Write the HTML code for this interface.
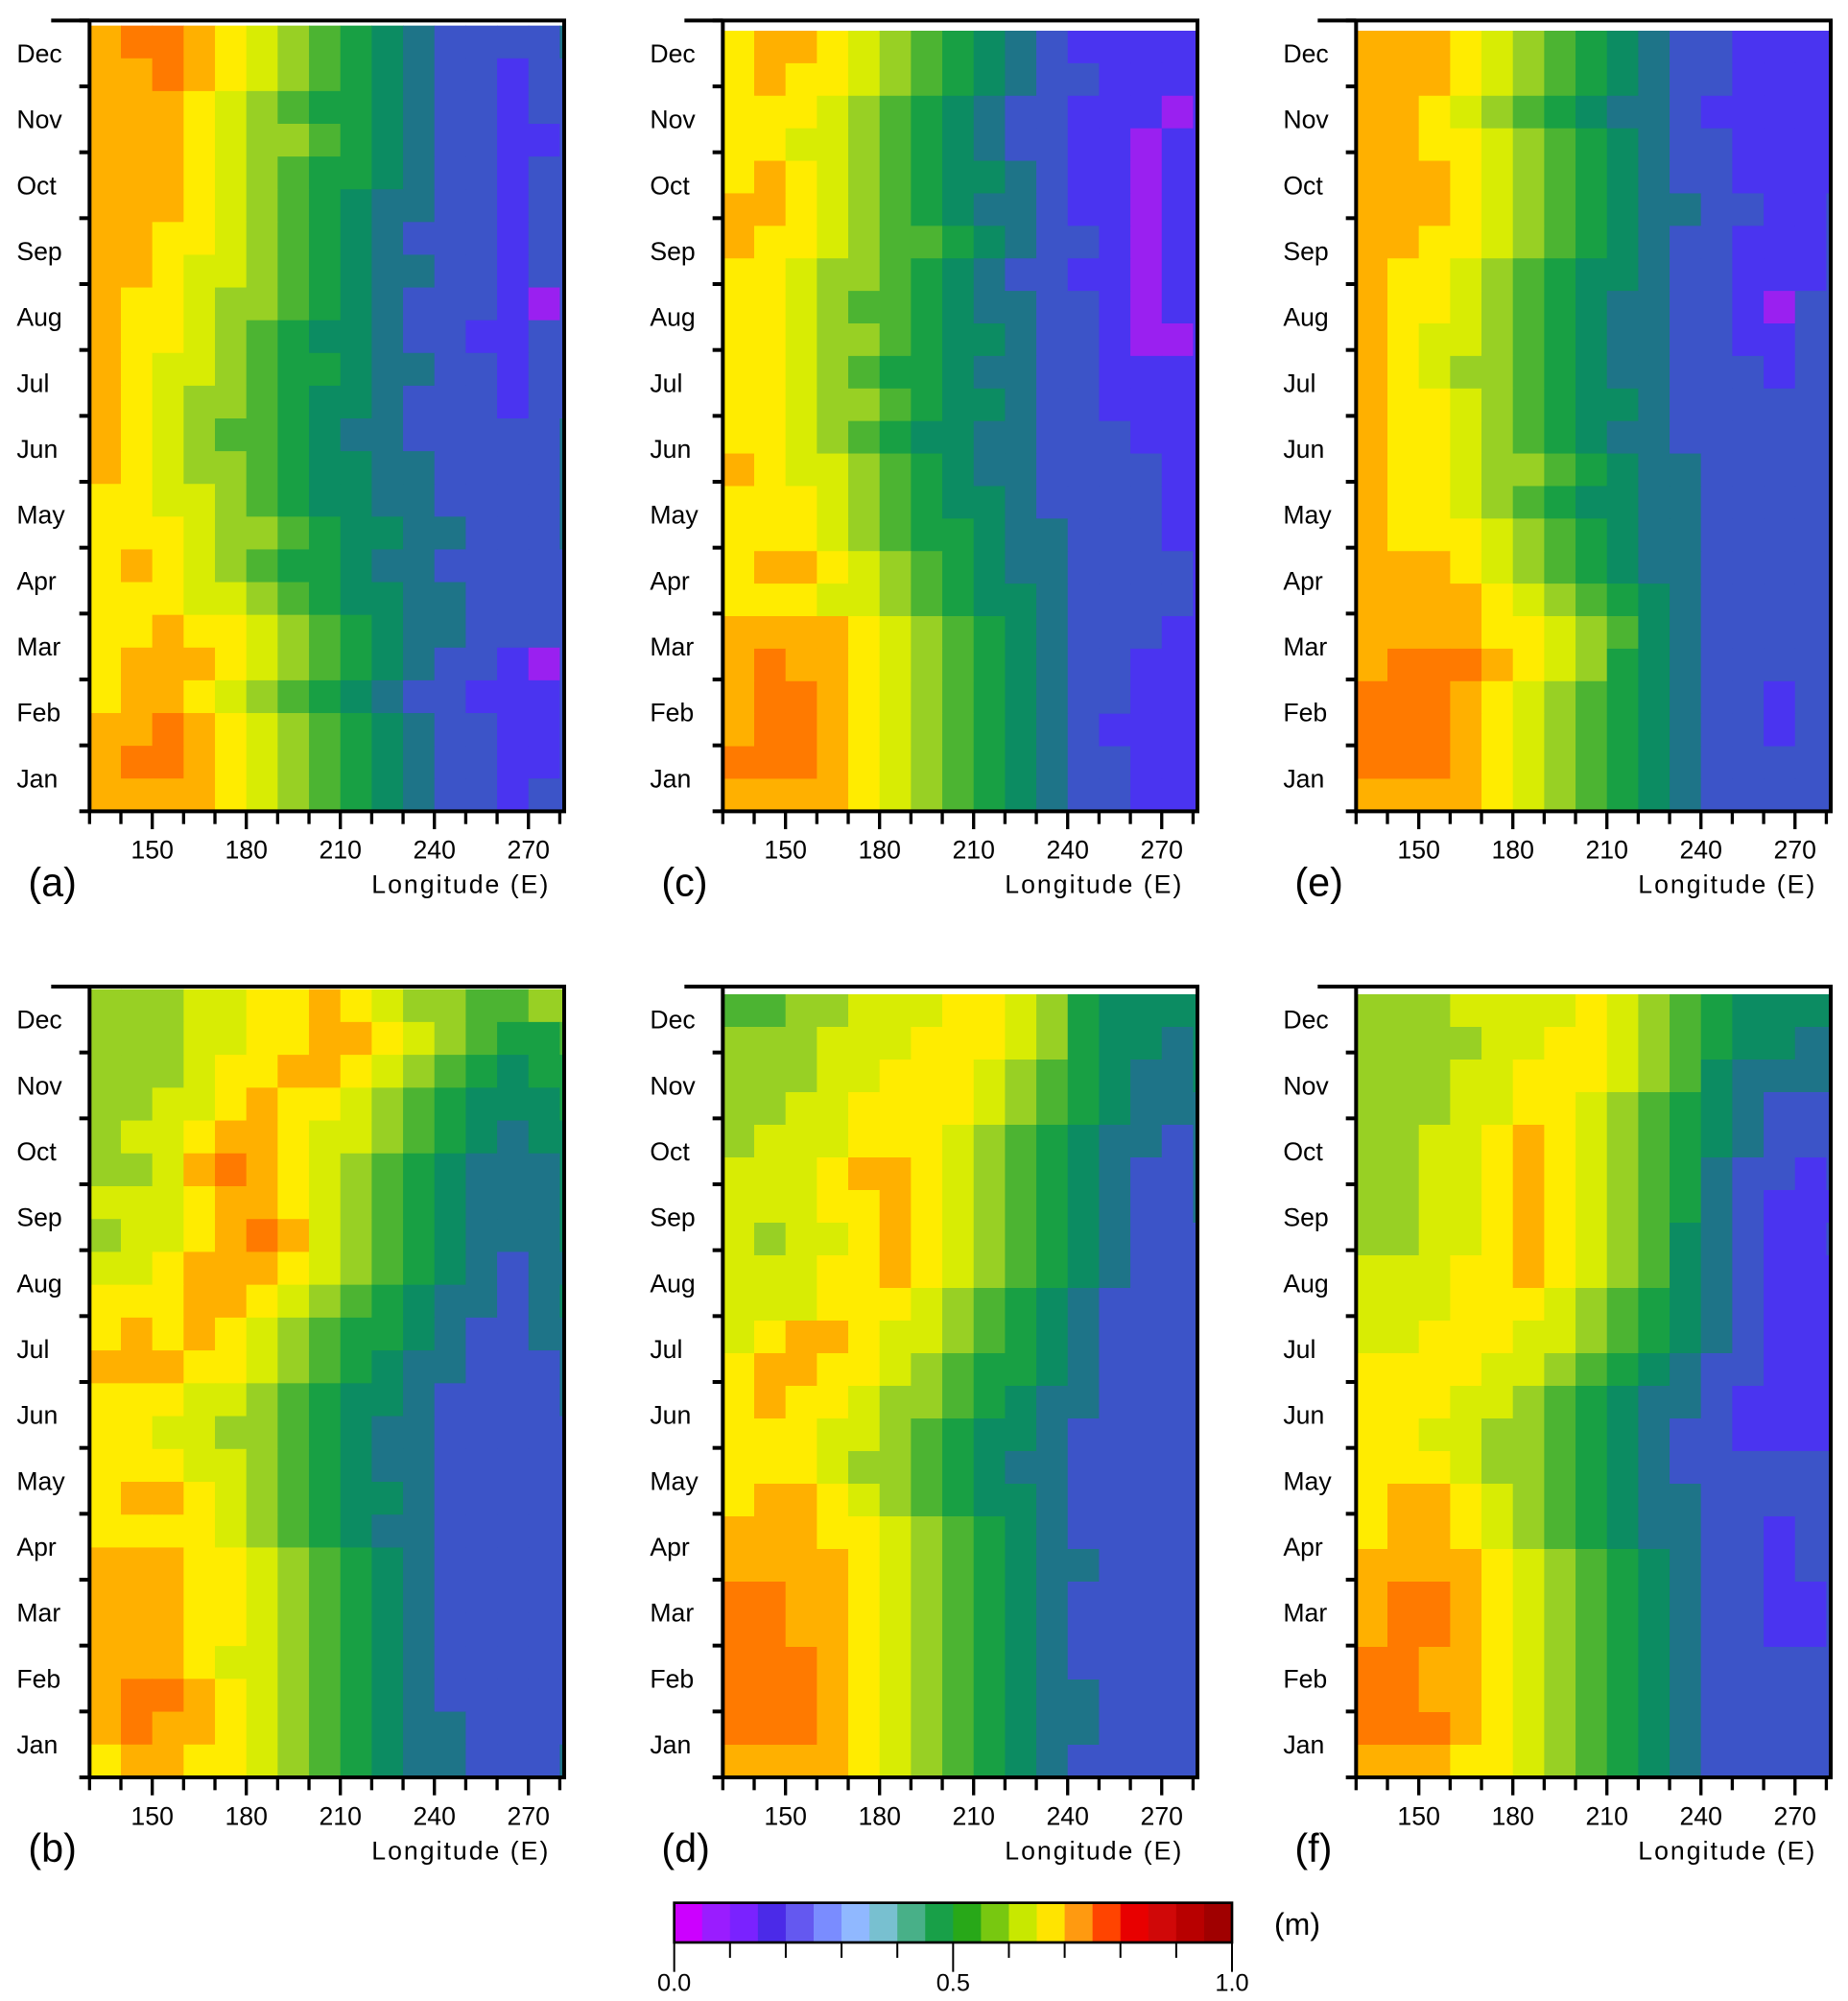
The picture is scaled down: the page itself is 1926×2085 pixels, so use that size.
<!DOCTYPE html>
<html><head><meta charset="utf-8"><style>
html,body{margin:0;padding:0;background:#fff;}
svg{display:block;font-family:"Liberation Sans",Arial,sans-serif;}
</style></head><body>
<svg id="fig" width="1926" height="2085" viewBox="0 0 1444.5 1563.75" xmlns="http://www.w3.org/2000/svg"></svg>
<script>
// Longitudes of cell left edges (10° bins) and month labels
const lonEdges = [130,140,150,160,170,180,190,200,210,220,230,240,250,260,270,280];
const lonTicks = [150,180,210,240,270];
const months = ["Dec","Nov","Oct","Sep","Aug","Jul","Jun","May","Apr","Mar","Feb","Jan"];
const cbTicks = ["0.0","0.5","1.0"];
// Sea level (cm), 24 half-month rows top (late Dec) -> bottom (early Jan), 16 longitude bins
const panelA = [
[72,77,77,72,67,62,57,52,47,42,37,32,32,32,32,37],[72,72,77,72,67,62,57,52,47,42,37,32,32,27,32,32],
[72,72,72,67,62,57,52,47,47,42,37,32,32,27,32,32],[72,72,72,67,62,57,57,52,47,42,37,32,32,27,27,32],
[72,72,72,67,62,57,52,47,47,42,37,32,32,27,32,32],[72,72,72,67,62,57,52,47,42,37,37,32,32,27,32,32],
[72,72,67,67,62,57,52,47,42,37,32,32,32,27,32,32],[72,72,67,62,62,57,52,47,42,37,37,32,32,27,32,32],
[72,67,67,62,57,57,52,47,42,37,32,32,32,27,22,32],[72,67,67,62,57,52,47,42,42,37,32,32,27,27,32,32],
[72,67,62,62,57,52,47,47,42,37,37,32,32,27,32,32],[72,67,62,57,57,52,47,42,42,37,32,32,32,27,32,32],
[72,67,62,57,52,52,47,42,37,37,32,32,32,32,32,37],[72,67,62,57,57,52,47,42,42,37,37,32,32,32,32,37],
[67,67,62,62,57,52,47,42,42,37,37,32,32,32,32,37],[67,67,67,62,57,57,52,47,42,42,37,37,32,32,32,37],
[67,72,67,62,57,52,47,47,42,37,37,32,32,32,32,32],[67,67,67,62,62,57,52,47,42,42,37,37,32,32,32,32],
[67,67,72,67,67,62,57,52,47,42,37,37,32,32,32,32],[67,72,72,72,67,62,57,52,47,42,37,32,32,27,22,32],
[67,72,72,67,62,57,52,47,42,37,32,32,27,27,27,32],[72,72,77,72,67,62,57,52,47,42,37,32,32,27,27,32],
[72,77,77,72,67,62,57,52,47,42,37,32,32,27,27,32],[72,72,72,72,67,62,57,52,47,42,37,32,32,27,32,32]];
const panelC = [
[67,72,72,67,62,57,52,47,42,37,32,27,27,27,27,27],[67,72,67,67,62,57,52,47,42,37,32,32,27,27,27,27],
[67,67,67,62,57,52,47,42,37,32,32,27,27,27,22,27],[67,67,62,62,57,52,47,42,37,32,32,27,27,22,27,27],
[67,72,67,62,57,52,47,42,42,37,32,27,27,22,27,27],[72,72,67,62,57,52,47,42,37,37,32,27,27,22,27,27],
[72,67,67,62,57,52,52,47,42,37,32,32,27,22,27,27],[67,67,62,57,57,52,47,42,37,32,32,27,27,22,27,27],
[67,67,62,57,52,52,47,42,37,37,32,32,27,22,27,27],[67,67,62,57,57,52,47,42,42,37,32,32,27,22,22,27],
[67,67,62,57,52,47,47,42,37,37,32,32,27,27,27,27],[67,67,62,57,57,52,47,42,42,37,32,32,27,27,27,27],
[67,67,62,57,52,47,42,42,37,37,32,32,32,27,27,27],[72,67,62,62,57,52,47,42,37,37,32,32,32,32,27,27],
[67,67,67,62,57,52,47,42,42,37,32,32,32,32,27,27],[67,67,67,62,57,52,47,47,42,37,37,32,32,32,27,27],
[67,72,72,67,62,57,52,47,42,37,37,32,32,32,32,27],[67,67,67,62,62,57,52,47,42,42,37,32,32,32,32,27],
[72,72,72,72,67,62,57,52,47,42,37,32,32,32,27,27],[72,77,72,72,67,62,57,52,47,42,37,32,32,27,27,27],
[72,77,77,72,67,62,57,52,47,42,37,32,32,27,27,27],[72,77,77,72,67,62,57,52,47,42,37,32,27,27,27,27],
[77,77,77,72,67,62,57,52,47,42,37,32,32,27,27,27],[72,72,72,72,67,62,57,52,47,42,37,32,32,27,27,27]];
const panelE = [
[72,72,72,67,62,57,52,47,42,37,32,32,27,27,27,27],[72,72,72,67,62,57,52,47,42,37,32,32,27,27,27,27],
[72,72,67,62,57,52,47,42,37,37,32,27,27,27,27,27],[72,72,67,67,62,57,52,47,42,37,32,32,27,27,27,27],
[72,72,72,67,62,57,52,47,42,37,32,32,27,27,27,27],[72,72,72,67,62,57,52,47,42,37,37,32,32,27,27,32],
[72,72,67,67,62,57,52,47,42,37,32,32,27,27,27,32],[72,67,67,62,57,52,47,42,42,37,32,32,27,27,27,32],
[72,67,67,62,57,52,47,42,37,37,32,32,27,22,32,32],[72,67,62,62,57,52,47,42,37,37,32,32,27,27,32,32],
[72,67,62,57,57,52,47,42,37,37,32,32,32,27,32,32],[72,67,67,62,57,52,47,42,42,37,32,32,32,32,32,32],
[72,67,67,62,57,52,47,42,37,37,32,32,32,32,32,32],[72,67,67,62,57,57,52,47,42,37,37,32,32,32,32,32],
[72,67,67,62,57,52,47,42,42,37,37,32,32,32,32,32],[72,67,67,67,62,57,52,47,42,37,37,32,32,32,32,32],
[72,72,72,67,62,57,52,47,42,37,37,32,32,32,32,32],[72,72,72,72,67,62,57,52,47,42,37,32,32,32,32,32],
[72,72,72,72,67,67,62,57,52,42,37,32,32,32,32,32],[72,77,77,77,72,67,62,57,47,42,37,32,32,32,32,32],
[77,77,77,72,67,62,57,52,47,42,37,32,32,27,32,32],[77,77,77,72,67,62,57,52,47,42,37,32,32,27,32,32],
[77,77,77,72,67,62,57,52,47,42,37,32,32,32,32,32],[72,72,72,72,67,62,57,52,47,42,37,32,32,32,32,32]];
const panelB = [
[57,57,57,62,62,67,67,72,67,62,57,57,52,52,57,57],[57,57,57,62,62,67,67,72,72,67,62,57,52,47,47,52],
[57,57,57,62,67,67,72,72,67,62,57,52,47,42,47,47],[57,57,62,62,67,72,67,67,62,57,52,47,42,42,42,47],
[57,62,62,67,72,72,67,62,62,57,52,47,42,37,42,42],[57,57,62,72,77,72,67,62,57,52,47,42,37,37,37,42],
[62,62,62,67,72,72,67,62,57,52,47,42,37,37,37,42],[57,62,62,67,72,77,72,62,57,52,47,42,37,37,37,42],
[62,62,67,72,72,72,67,62,57,52,47,42,37,32,37,37],[67,67,67,72,72,67,62,57,52,47,42,37,37,32,37,42],
[67,72,67,72,67,62,57,52,47,47,42,37,32,32,37,37],[72,72,72,67,67,62,57,52,47,42,37,37,32,32,32,37],
[67,67,67,62,62,57,52,47,42,42,37,32,32,32,32,37],[67,67,62,62,57,57,52,47,42,37,37,32,32,32,32,32],
[67,67,67,62,62,57,52,47,42,37,37,32,32,32,32,32],[67,72,72,67,62,57,52,47,42,42,37,32,32,32,32,32],
[67,67,67,67,62,57,52,47,42,37,37,32,32,32,32,32],[72,72,72,67,67,62,57,52,47,42,37,32,32,32,32,32],
[72,72,72,67,67,62,57,52,47,42,37,32,32,32,32,32],[72,72,72,67,67,62,57,52,47,42,37,32,32,32,32,32],
[72,72,72,67,62,62,57,52,47,42,37,32,32,32,32,32],[72,77,77,72,67,62,57,52,47,42,37,32,32,32,32,32],
[72,77,72,72,67,62,57,52,47,42,37,37,32,32,32,32],[67,72,72,67,67,62,57,52,47,42,37,37,32,32,32,37]];
const panelD = [
[52,52,57,57,62,62,62,67,67,62,57,47,42,42,42,42],[57,57,57,62,62,62,67,67,67,62,57,47,42,42,37,42],
[57,57,57,62,62,67,67,67,62,57,52,47,42,37,37,42],[57,57,62,62,67,67,67,67,62,57,52,47,42,37,37,37],
[57,62,62,62,67,67,67,62,57,52,47,42,37,37,32,37],[62,62,62,67,72,72,67,62,57,52,47,42,37,32,32,37],
[62,62,62,67,67,72,67,62,57,52,47,42,37,32,32,37],[62,57,62,62,67,72,67,62,57,52,47,42,37,32,32,32],
[62,62,62,67,67,72,67,62,57,52,47,42,37,32,32,32],[62,62,62,67,67,67,62,57,52,47,42,37,32,32,32,32],
[62,67,72,72,67,62,62,57,52,47,42,37,32,32,32,32],[67,72,72,67,67,62,57,52,47,47,42,37,32,32,32,32],
[67,72,67,67,62,57,57,52,47,42,37,37,32,32,32,32],[67,67,67,62,62,57,52,47,42,42,37,32,32,32,32,32],
[67,67,67,62,57,57,52,47,42,37,37,32,32,32,32,32],[67,72,72,67,62,57,52,47,42,42,37,32,32,32,32,32],
[72,72,72,67,67,62,57,52,47,42,37,32,32,32,32,32],[72,72,72,72,67,62,57,52,47,42,37,37,32,32,32,32],
[77,77,72,72,67,62,57,52,47,42,37,32,32,32,32,32],[77,77,72,72,67,62,57,52,47,42,37,32,32,32,32,32],
[77,77,77,72,67,62,57,52,47,42,37,32,32,32,32,32],[77,77,77,72,67,62,57,52,47,42,37,37,32,32,32,32],
[77,77,77,72,67,62,57,52,47,42,37,37,32,32,32,32],[72,72,72,72,67,62,57,52,47,42,37,32,32,32,32,32]];
const panelF = [
[57,57,57,62,62,62,62,67,62,57,52,47,42,42,42,42],[57,57,57,57,62,62,67,67,62,57,52,47,42,42,37,37],
[57,57,57,62,62,67,67,67,62,57,52,42,37,37,37,37],[57,57,57,62,62,67,67,62,57,52,47,42,37,32,32,32],
[57,57,62,62,67,72,67,62,57,52,47,42,37,32,32,32],[57,57,62,62,67,72,67,62,57,52,47,37,32,32,27,32],
[57,57,62,62,67,72,67,62,57,52,47,37,32,27,27,27],[57,57,62,62,67,72,67,62,57,52,42,37,32,27,27,32],
[62,62,62,67,67,72,67,62,57,52,42,37,32,27,27,27],[62,62,62,67,67,67,62,57,52,47,42,37,32,27,27,27],
[62,62,67,67,67,62,62,57,52,47,42,37,32,27,27,27],[67,67,67,67,62,62,57,52,47,42,37,32,32,27,27,27],
[67,67,67,62,62,57,52,47,42,37,37,32,27,27,27,27],[67,67,62,62,57,57,52,47,42,37,32,32,27,27,27,27],
[67,67,67,62,57,57,52,47,42,37,32,32,32,32,32,32],[67,72,72,67,62,57,52,47,42,37,37,32,32,32,32,32],
[67,72,72,67,62,57,52,47,42,37,37,32,32,27,32,32],[72,72,72,72,67,62,57,52,47,42,37,32,32,27,32,32],
[72,77,77,72,67,62,57,52,47,42,37,32,32,27,27,32],[72,77,77,72,67,62,57,52,47,42,37,32,32,27,27,32],
[77,77,72,72,67,62,57,52,47,42,37,32,32,32,32,32],[77,77,72,72,67,62,57,52,47,42,37,32,32,32,32,32],
[77,77,77,72,67,62,57,52,47,42,37,32,32,32,32,32],[72,72,72,67,67,62,57,52,47,42,37,32,32,32,32,32]];
const panelLabels = ["(a)","(c)","(e)","(b)","(d)","(f)"];

const NS="http://www.w3.org/2000/svg";
const svg=document.getElementById('fig');
function mk(tag,attrs,parent){const e=document.createElementNS(NS,tag);for(const k in attrs)e.setAttribute(k,attrs[k]);(parent||svg).appendChild(e);return e;}
const plotColors={20:"#9a20f0",25:"#4a34f0",30:"#3c54c8",35:"#1e7488",40:"#0c8c62",45:"#18a044",50:"#4cb432",55:"#98d024",60:"#d8ec04",65:"#ffec00",70:"#ffb000",75:"#ff7a00",80:"#ff4400"};
function colorOf(v){let k=Math.floor(v/5)*5;if(k<20)k=20;if(k>80)k=80;return plotColors[k];}
const W=371,H=618,LON0=130,LON1=281.4;
const layout=[{x:70,y:16,gap:4,data:panelA},{x:565,y:16,gap:8,data:panelC},{x:1060,y:16,gap:8,data:panelE},
{x:70,y:771,gap:2,data:panelB},{x:565,y:771,gap:6,data:panelD},{x:1060,y:771,gap:6,data:panelF}];

layout.forEach((p,pi)=>{
  const g=mk('g',{});
  
  
  const xs=lon=>p.x+(lon-LON0)/(LON1-LON0)*W;
  const top=p.y+p.gap, rows=p.data.length, rh=(p.y+H-top)/rows;
  p.data.forEach((row,ri)=>{
    row.forEach((v,ci)=>{
      const x0=xs(lonEdges[ci]), x1=Math.min(xs(lonEdges[ci]+10),p.x+W);
      const r=mk('rect',{x:x0,y:top+ri*rh,width:x1-x0+0.4,height:rh+0.4,fill:colorOf(v)},g);
      
      
    });
  });
  // frame
  const fr=mk('path',{d:`M${p.x-30},${p.y} H${p.x+W} V${p.y+H} H${p.x} V${p.y}`,fill:'none',stroke:'#000','stroke-width':3},g);
  
  
  // month ticks
  for(let m=0;m<=12;m++){
    const y=p.y+m*H/12;
    const t=mk('line',{x1:p.x-8,x2:p.x,y1:y,y2:y,stroke:'#000','stroke-width':3},g);
    
    
  }
  months.forEach((mn,i)=>{
    const t=mk('text',{x:p.x-57,y:p.y+(i+0.5)*H/12+7,'font-size':20,fill:'#000'},g);
    t.textContent=mn;
    
    
  });
  for(let lon=130;lon<=280;lon+=10){
    const x=xs(lon);
    const t=mk('line',{x1:x,x2:x,y1:p.y+H,y2:p.y+H+(lon%30===0?14:10),stroke:'#000','stroke-width':2.5},g);
    
    
  }
  lonTicks.forEach(lon=>{
    const t=mk('text',{x:xs(lon),y:p.y+H+37,'font-size':20,'text-anchor':'middle',fill:'#000'},g);
    t.textContent=lon;
    
    
  });
  const xl=mk('text',{x:p.x+360,y:p.y+H+64,'font-size':20,'text-anchor':'end','letter-spacing':1.5,fill:'#000'},g);
  xl.textContent='Longitude (E)';
  
  
  const pl=mk('text',{x:p.x-48,y:p.y+H+66,'font-size':31,fill:'#000'},g);
  pl.textContent=panelLabels[pi];
  
  
});

// colorbar
const cbColors=["#cc00ff","#9a1cff","#7a22ff","#4b2ae8","#6458f0","#7a8cff","#90b8ff","#78c0d0","#48b088","#18a048","#28a818","#78c810","#c8e800","#ffe400","#ff9a10","#ff4400","#e80000","#d00808","#b80000","#a00000"];
const cb=mk('g',{});


const cbX=527,cbW=436,cbY=1487,cbH=31;
cbColors.forEach((c,i)=>{
  const r=mk('rect',{x:cbX+i*cbW/20,y:cbY,width:cbW/20+0.3,height:cbH,fill:c},cb);
  
  
});
mk('rect',{x:cbX,y:cbY,width:cbW,height:cbH,fill:'none',stroke:'#000','stroke-width':2},cb);
for(let i=0;i<=10;i++){
  const x=cbX+i*cbW/10;
  const t=mk('line',{x1:x,x2:x,y1:cbY+cbH,y2:cbY+cbH+(i%5===0?23:12),stroke:'#000','stroke-width':1.5},cb);
  
  
}
cbTicks.forEach((s,i)=>{
  const t=mk('text',{x:cbX+i*cbW/2,y:1556,'font-size':19,'text-anchor':'middle',fill:'#000'},cb);
  t.textContent=s;
  
  
});
const um=mk('text',{x:996,y:1512,'font-size':24,fill:'#000'},cb);
um.textContent='(m)';


</script>
</body></html>
